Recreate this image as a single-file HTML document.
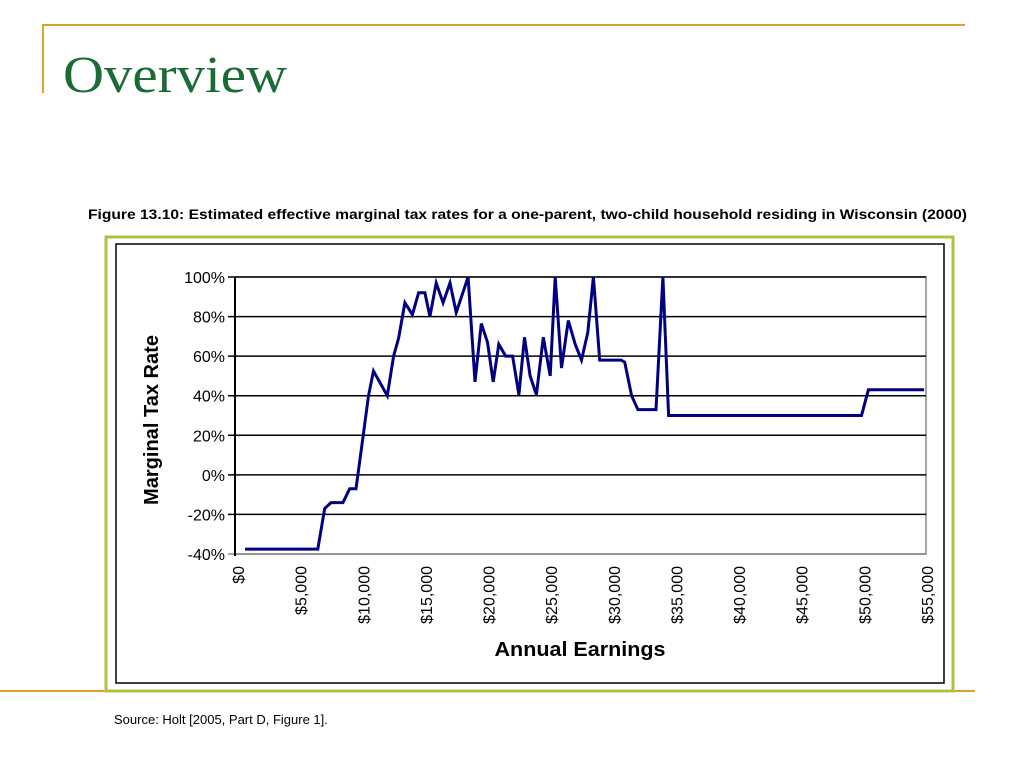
<!DOCTYPE html>
<html><head><meta charset="utf-8"><style>
body{margin:0;background:#fff;}
svg{display:block;}
</style></head><body>
<svg width="1024" height="768" viewBox="0 0 1024 768" font-family="Liberation Sans, sans-serif">
<line x1="42" y1="25" x2="965" y2="25" stroke="#d4a72c" stroke-width="2"/>
<line x1="43" y1="25" x2="43" y2="93" stroke="#d4a72c" stroke-width="2"/>
<text x="63" y="92" font-family="Liberation Serif, serif" font-size="52" fill="#1a6b35" textLength="224" lengthAdjust="spacingAndGlyphs">Overview</text>
<text x="88" y="219" font-size="14" font-weight="bold" fill="#000" textLength="879" lengthAdjust="spacingAndGlyphs">Figure 13.10: Estimated effective marginal tax rates for a one-parent, two-child household residing in Wisconsin (2000)</text>
<line x1="0" y1="691" x2="975" y2="691" stroke="#e0a030" stroke-width="2"/>
<rect x="106" y="237" width="847" height="454" fill="#fff" stroke="#b5c040" stroke-width="3"/>
<rect x="116" y="244" width="828" height="439" fill="#fff" stroke="#000" stroke-width="1.5"/>
<g id="chart"></g>
<text x="114" y="724" font-size="13" fill="#000">Source: Holt [2005, Part D, Figure 1].</text>
</svg>
<script>
const earnings=[640,6450,7000,7500,8450,9000,9500,10100,10500,10900,12000,12500,12900,13400,14000,14500,15000,15400,15900,16450,17000,17500,18450,19000,19500,20000,20450,20900,21450,22000,22500,22950,23400,23900,24450,25000,25400,25900,26450,27000,27500,28000,28450,28950,30650,30950,31500,32000,33450,34000,34450,49850,50400,54850];
const rates=[-37.5,-37.5,-17,-14,-14,-7,-7,21,40,52.5,40,60,69,87,81,92,92,80,97,87,97,82,100,47,76.5,67,47,66,60,60,40.5,69.5,50,40.5,69.5,50,100,54,78,66,58,72,100,58,58,57,40,33,33,100,30,30,43,43];
const yTicks=[-40,-20,0,20,40,60,80,100];
const xTicks=[0,5000,10000,15000,20000,25000,30000,35000,40000,45000,50000,55000];
const NS='http://www.w3.org/2000/svg';
const g=document.getElementById('chart');
const L=237,R=926,T=277,B=554;
const xS=v=>L+(v/55000)*(R-L);
const yS=v=>B-(v+40)/140*(B-T);
function mk(t,a){const e=document.createElementNS(NS,t);for(const k in a)e.setAttribute(k,a[k]);g.appendChild(e);return e;}
mk('rect',{x:235,y:T,width:R-235,height:B-T,fill:'none',stroke:'#888','stroke-width':1.5});
yTicks.forEach(v=>{
 const ln=mk('line',{x1:228,x2:R,y1:yS(v),y2:yS(v),stroke:v===-40?'#888':'#000','stroke-width':1.5});
 
 
 const t=mk('text',{x:225,y:yS(v)+6,'text-anchor':'end','font-size':16});
 t.textContent=v+'%';
 
 
});
mk('line',{x1:235,x2:235,y1:T,y2:B+2,stroke:'#000','stroke-width':2});
xTicks.forEach(v=>{
 const x=xS(v)+1;
 const t=mk('text',{x:0,y:0,'text-anchor':'end','font-size':16,transform:`translate(${x+6},566) rotate(-90)`});
 t.textContent='$'+v.toLocaleString('en-US');
 
 
});
const pts=earnings.map((e,i)=>xS(e).toFixed(1)+','+yS(rates[i]).toFixed(1)).join(' ');
const line=mk('polyline',{points:pts,fill:'none',stroke:'#000080','stroke-width':3,'stroke-linejoin':'miter'});


const xt=mk('text',{x:580,y:656,'text-anchor':'middle','font-size':20,'font-weight':'bold',textLength:171,lengthAdjust:'spacingAndGlyphs'});
xt.textContent='Annual Earnings';


const yt=mk('text',{x:0,y:0,'text-anchor':'middle','font-size':20,'font-weight':'bold',textLength:170,lengthAdjust:'spacingAndGlyphs',transform:'translate(158,420) rotate(-90)'});
yt.textContent='Marginal Tax Rate';


</script>
</body></html>
